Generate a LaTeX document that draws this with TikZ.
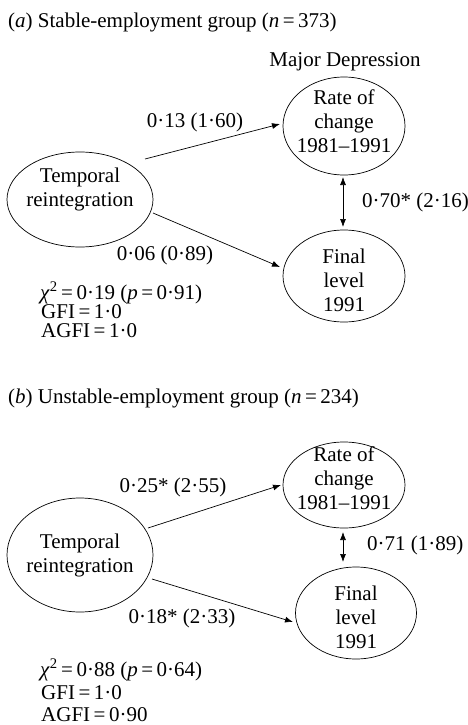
\documentclass[tikz,border=0pt]{standalone}
\usepackage{fontspec}
\setmainfont{Liberation Serif}
\usetikzlibrary{shapes.geometric,arrows.meta}
\tikzset{
  oval/.style={draw, ellipse, line width=0.7pt, inner sep=0pt},
  lbl/.style={font=\fontsize{21}{24}\selectfont, inner sep=0pt},
  inner/.style={font=\fontsize{21}{24}\selectfont, inner sep=0pt, align=center},
  arr/.style={line width=0.7pt, -{Latex[length=8pt,width=6pt]}},
  darr/.style={line width=0.7pt, {Latex[length=8pt,width=6pt]}-{Latex[length=8pt,width=6pt]}}
}
\begin{document}
\begin{tikzpicture}[x=1pt,y=-1pt]
\useasboundingbox (0,0) rectangle (468,725);
% ---------- panel a ----------
\node[lbl, anchor=west] (ta) at (8,22) {(\textit{a}) Stable-employment group (\textit{n}\,=\,373)};
\node[lbl] (md) at (345,62) {Major Depression};
\node[oval, minimum width=146pt, minimum height=95pt] (tra) at (80,199.5) {};
\node[inner] (trat) at (80,189) {Temporal\\reintegration};
\node[oval, minimum width=122pt, minimum height=98pt] (rca) at (344,126) {};
\node[inner] (rcat) at (344,121) {Rate of\\change\\1981--1991};
\node[oval, minimum width=122pt, minimum height=92pt] (fla) at (344,276) {};
\node[inner] (flat) at (344,280) {Final\\level\\1991};
\coordinate (a1s) at (145,159);
\coordinate (a1e) at (280,124);
\coordinate (a2s) at (153,213);
\coordinate (a2e) at (280,267);
\coordinate (a3s) at (343,177);
\coordinate (a3e) at (343,227);
\draw[arr] (a1s) -- (a1e);
\draw[arr] (a2s) -- (a2e);
\draw[darr] (a3s) -- (a3e);
\node[lbl] (la1) at (195,122) {0·13 (1·60)};
\node[lbl, anchor=west] (la3) at (362,202) {0·70* (2·16)};
\node[lbl] (la2) at (165,255) {0·06 (0·89)};
\node[lbl, anchor=west] (fa1) at (40,293) {\textit{χ}\textsuperscript{2}\,=\,0·19 (\textit{p}\,=\,0·91)};
\node[lbl, anchor=west] (fa2) at (41,312) {GFI\,=\,1·0};
\node[lbl, anchor=west] (fa3) at (41,331) {AGFI\,=\,1·0};
% ---------- panel b ----------
\node[lbl, anchor=west] (tb) at (8,398) {(\textit{b}) Unstable-employment group (\textit{n}\,=\,234)};
\node[oval, minimum width=146pt, minimum height=114pt] (trb) at (80,555) {};
\node[inner] (trbt) at (80,555) {Temporal\\reintegration};
\node[oval, minimum width=122pt, minimum height=86pt] (rcb) at (344,485) {};
\node[inner] (rcbt) at (344,478) {Rate of\\change\\1981--1991};
\node[oval, minimum width=121pt, minimum height=92pt] (flb) at (356,613) {};
\node[inner] (flbt) at (356,617) {Final\\level\\1991};
\coordinate (b1s) at (148,528);
\coordinate (b1e) at (281,485);
\coordinate (b2s) at (152,579);
\coordinate (b2e) at (293,622);
\coordinate (b3s) at (343,532);
\coordinate (b3e) at (343,562);
\draw[arr] (b1s) -- (b1e);
\draw[arr] (b2s) -- (b2e);
\draw[darr] (b3s) -- (b3e);
\node[lbl] (lb1) at (173,487) {0·25* (2·55)};
\node[lbl, anchor=west] (lb3) at (367,545) {0·71 (1·89)};
\node[lbl] (lb2) at (182,618) {0·18* (2·33)};
\node[lbl, anchor=west] (fb1) at (40,670) {\textit{χ}\textsuperscript{2}\,=\,0·88 (\textit{p}\,=\,0·64)};
\node[lbl, anchor=west] (fb2) at (41,693) {GFI\,=\,1·0};
\node[lbl, anchor=west] (fb3) at (41,715) {AGFI\,=\,0·90};
\end{tikzpicture}
\end{document}
